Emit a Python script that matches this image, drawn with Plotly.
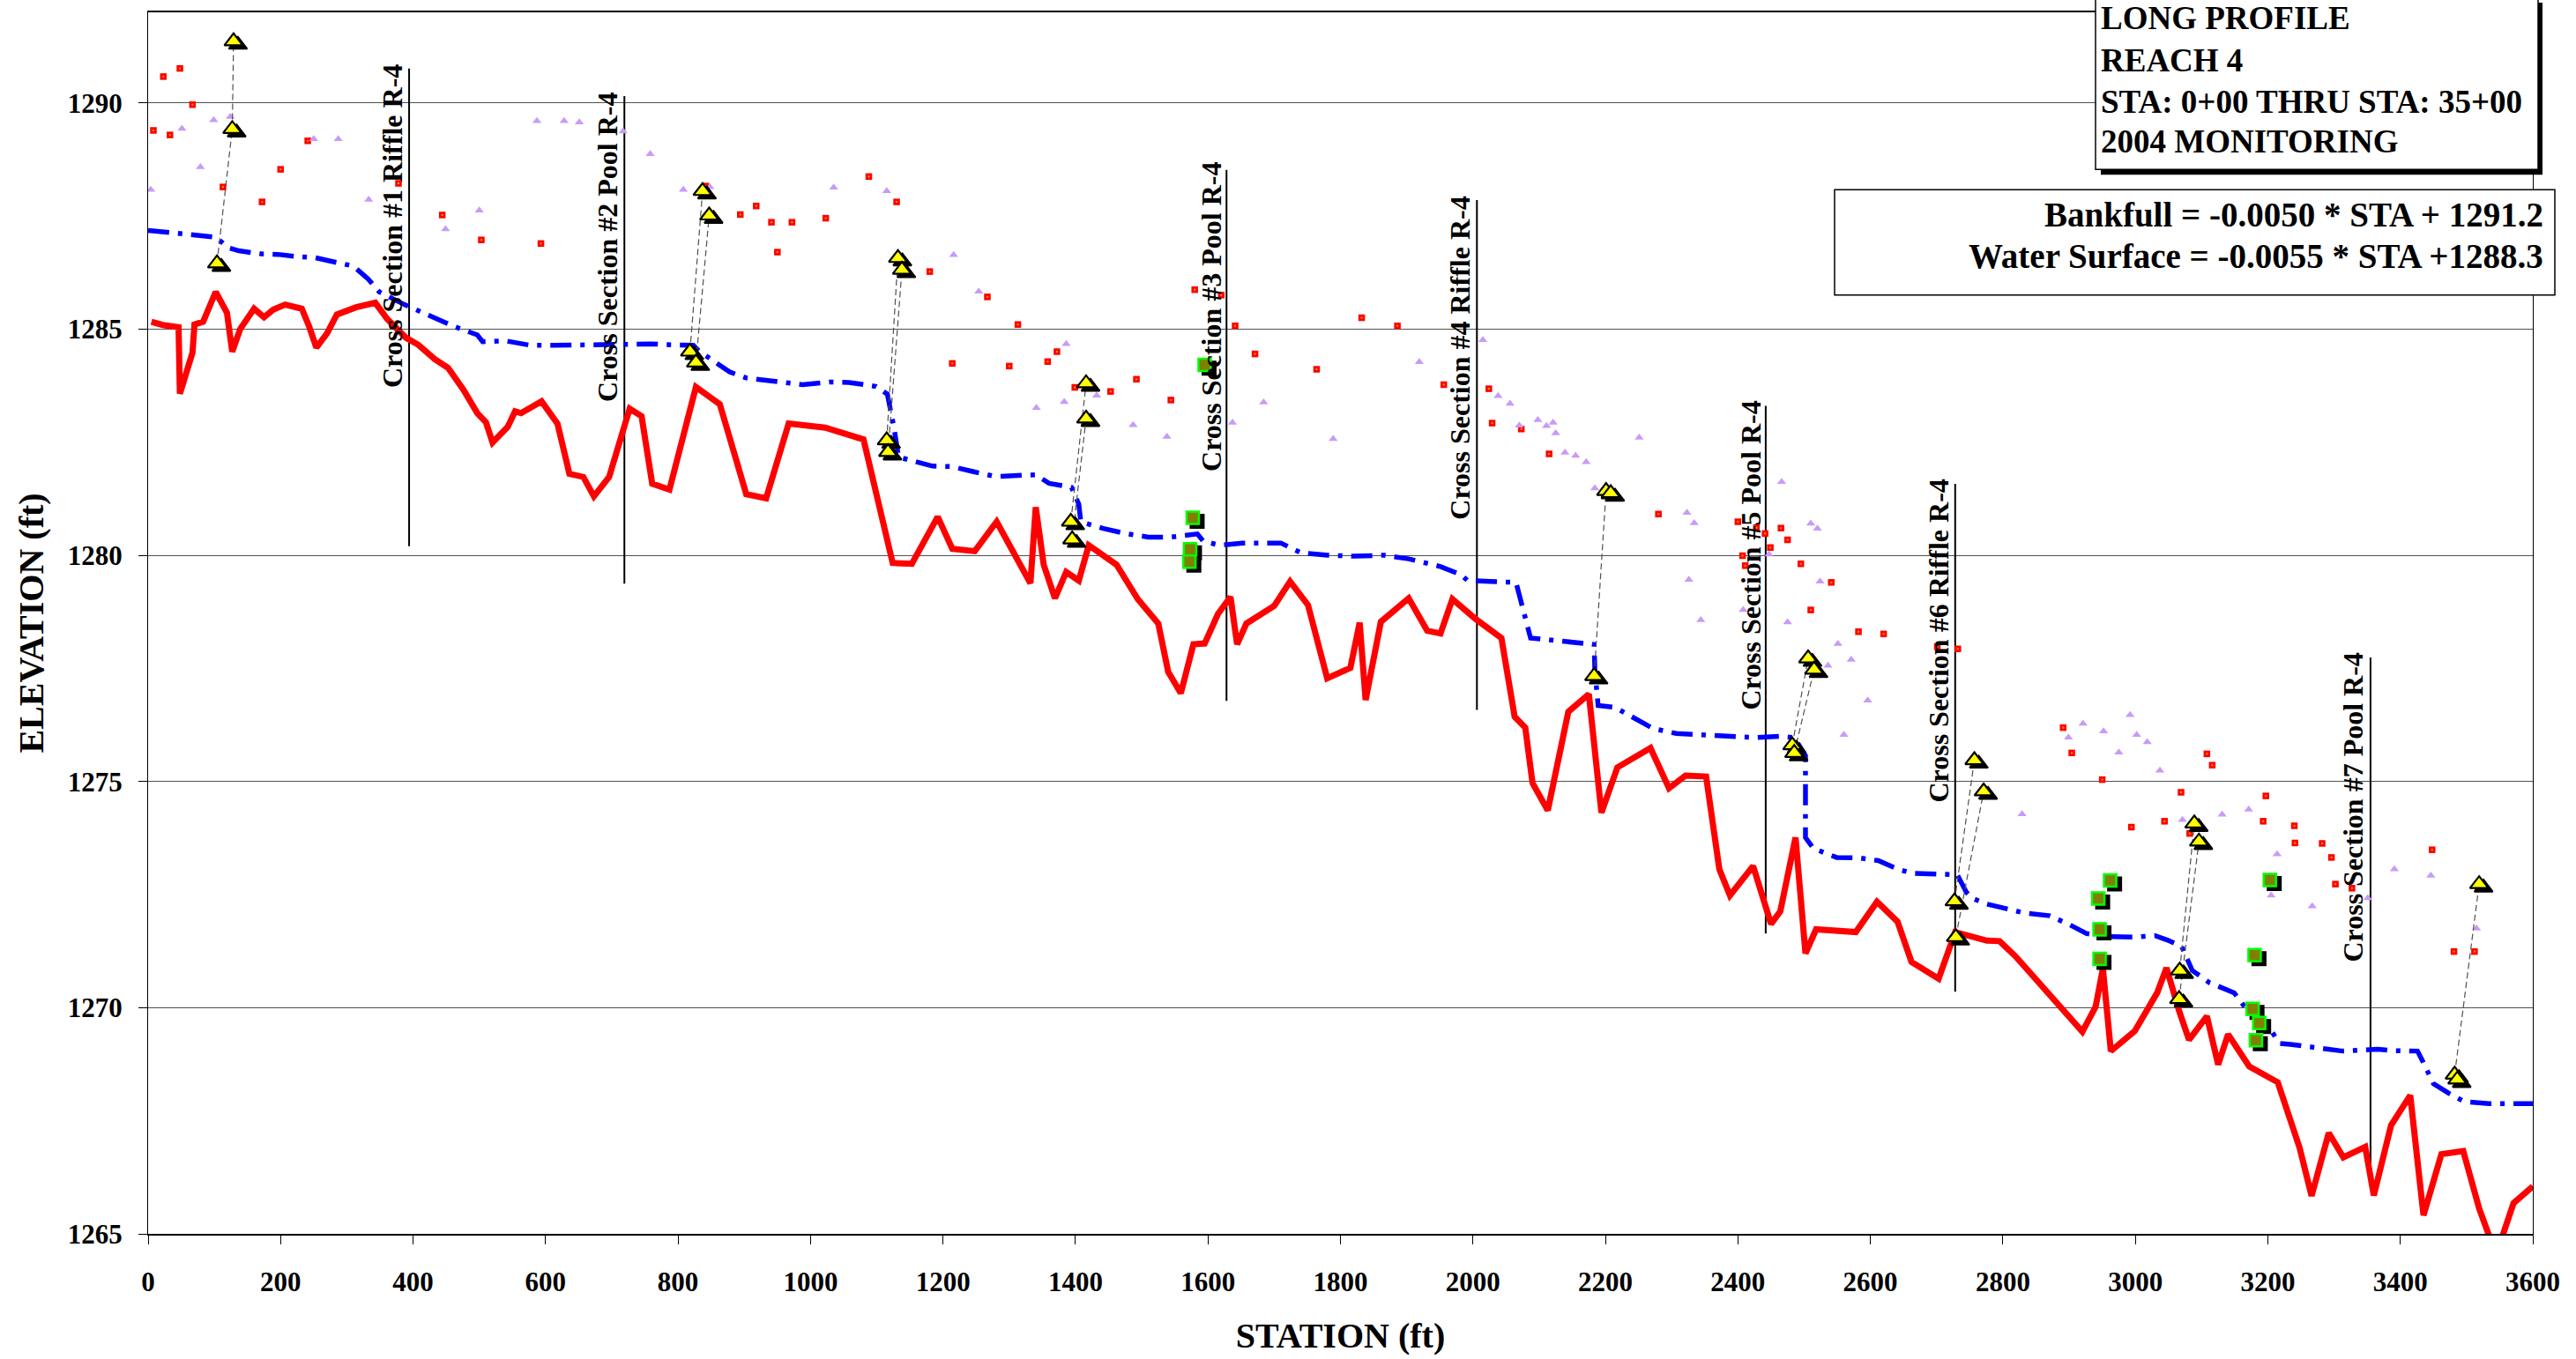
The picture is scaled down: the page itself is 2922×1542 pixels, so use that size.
import plotly.graph_objects as go

# ---------------- DATA ----------------
# Thalweg (red solid line)
BED_STA = [5, 22, 46, 48, 67, 70, 83, 102, 119, 127, 139, 160, 175, 189, 207, 232, 243, 254, 270, 285,
           314, 343, 361, 389, 408, 433, 453, 476, 497, 510, 520, 543, 554, 563, 594, 618, 636, 657, 673, 696,
           708, 727, 745, 761, 787, 827, 863, 903, 933, 967, 1022, 1047, 1080, 1124, 1153, 1192, 1214, 1248, 1281, 1332,
           1340, 1352, 1369, 1386, 1405, 1420, 1462, 1494, 1525, 1540, 1559, 1578, 1595, 1615, 1634, 1644, 1658, 1700, 1724, 1751,
           1780, 1815, 1829, 1838, 1861, 1903, 1931, 1951, 1969, 2005, 2043, 2063, 2079, 2090, 2113, 2144, 2175, 2194, 2218, 2268,
           2296, 2321, 2352, 2372, 2388, 2423, 2450, 2464, 2487, 2502, 2518, 2578, 2610, 2641, 2662, 2703, 2728, 2776, 2795, 2820,
           2920, 2940, 2951, 2963, 2999, 3033, 3047, 3066, 3081, 3108, 3125, 3140, 3172, 3215, 3248, 3266, 3292, 3314, 3347, 3360,
           3386, 3415, 3435, 3462, 3495, 3519, 3538, 3553, 3571, 3600]
BED_ELEV = [1285.16, 1285.09, 1285.04, 1283.57, 1284.48, 1285.10, 1285.16, 1285.82, 1285.36, 1284.50, 1285.00, 1285.45, 1285.26, 1285.43, 1285.54, 1285.45, 1285.06, 1284.59, 1284.90, 1285.32,
            1285.48, 1285.58, 1285.22, 1284.81, 1284.65, 1284.33, 1284.14, 1283.66, 1283.14, 1282.94, 1282.49, 1282.84, 1283.18, 1283.14, 1283.40, 1282.91, 1281.80, 1281.73, 1281.30, 1281.73,
            1282.32, 1283.24, 1283.07, 1281.58, 1281.45, 1283.72, 1283.34, 1281.35, 1281.26, 1282.91, 1282.82, 1282.71, 1282.56, 1279.83, 1279.81, 1280.85, 1280.14, 1280.09, 1280.74, 1279.38,
            1281.06, 1279.79, 1279.05, 1279.63, 1279.44, 1280.22, 1279.79, 1279.03, 1278.49, 1277.42, 1276.95, 1278.03, 1278.05, 1278.70, 1279.08, 1278.03, 1278.49, 1278.88, 1279.42, 1278.90,
            1277.28, 1277.51, 1278.51, 1276.80, 1278.53, 1279.05, 1278.33, 1278.27, 1279.03, 1278.58, 1278.17, 1276.43, 1276.19, 1274.96, 1274.36, 1276.54, 1276.93, 1274.31, 1275.31, 1275.74,
            1274.85, 1275.13, 1275.11, 1273.06, 1272.48, 1273.13, 1271.85, 1272.13, 1273.76, 1271.20, 1271.73, 1271.67, 1272.34, 1271.90, 1271.01, 1270.64, 1271.67, 1271.48, 1271.47, 1271.12,
            1269.47, 1270.02, 1270.86, 1269.04, 1269.48, 1270.33, 1270.88, 1269.93, 1269.29, 1269.81, 1268.74, 1269.41, 1268.70, 1268.35, 1266.90, 1265.84, 1267.23, 1266.69, 1266.92, 1265.85,
            1267.40, 1268.06, 1265.41, 1266.76, 1266.83, 1265.56, 1264.80, 1264.90, 1265.68, 1266.05]

# Water surface (blue dash-dot line)
WS_STA = [0, 22, 69, 103, 120, 137, 171, 196, 226, 251, 285, 310, 332, 349, 387, 433, 463, 497, 505, 539,
          577, 615, 641, 708, 759, 793, 823, 831, 853, 878, 903, 937, 988, 1030, 1058, 1099, 1116, 1126, 1133, 1184,
          1214, 1245, 1279, 1340, 1360, 1394, 1405, 1408, 1442, 1476, 1510, 1544, 1584, 1593, 1618, 1652, 1710, 1741, 1781, 1822,
          1866, 1903, 1951, 1982, 1992, 2026, 2065, 2087, 2151, 2183, 2184, 2189, 2214, 2243, 2272, 2307, 2338, 2396, 2428, 2463,
          2485, 2502, 2502, 2514, 2549, 2583, 2612, 2643, 2665, 2700, 2731, 2745, 2753, 2776, 2802, 2833, 2871, 2900, 2926, 2956,
          2996, 3030, 3049, 3070, 3086, 3112, 3149, 3165, 3197, 3218, 3234, 3286, 3313, 3336, 3366, 3387, 3426, 3434, 3450, 3474,
          3497, 3534, 3600]
WS_ELEV = [1287.18, 1287.15, 1287.08, 1287.03, 1286.80, 1286.73, 1286.66, 1286.65, 1286.60, 1286.58, 1286.47, 1286.39, 1286.11, 1285.82, 1285.54, 1285.24, 1285.05, 1284.87, 1284.72, 1284.74,
           1284.64, 1284.64, 1284.65, 1284.67, 1284.67, 1284.65, 1284.64, 1284.52, 1284.31, 1284.05, 1283.92, 1283.86, 1283.77, 1283.83, 1283.82, 1283.73, 1283.56, 1282.82, 1282.17, 1281.97,
           1281.96, 1281.85, 1281.74, 1281.78, 1281.59, 1281.50, 1281.13, 1280.74, 1280.59, 1280.48, 1280.40, 1280.40, 1280.47, 1280.31, 1280.22, 1280.27, 1280.27, 1280.05, 1280.00, 1279.98,
           1280.00, 1279.92, 1279.75, 1279.57, 1279.44, 1279.42, 1279.40, 1278.17, 1278.07, 1278.03, 1277.47, 1276.68, 1276.64, 1276.40, 1276.17, 1276.06, 1276.03, 1275.99, 1275.97, 1276.00,
           1275.97, 1275.57, 1273.76, 1273.52, 1273.32, 1273.31, 1273.25, 1273.05, 1272.97, 1272.95, 1272.94, 1272.55, 1272.42, 1272.29, 1272.19, 1272.09, 1272.03, 1271.84, 1271.64, 1271.57,
           1271.56, 1271.59, 1271.49, 1271.35, 1270.82, 1270.55, 1270.33, 1270.02, 1269.66, 1269.21, 1269.19, 1269.10, 1269.04, 1269.06, 1269.08, 1269.05, 1269.04, 1268.81, 1268.32, 1268.10,
           1267.92, 1267.88, 1267.88]

# Red square points
RSQ_STA = [8, 23, 33, 48, 67, 113, 172, 200, 241, 378, 444, 503, 593, 842, 894, 918, 941, 950, 972, 1023,
           1088, 1130, 1180, 1267, 1313, 1214, 1300, 1358, 1372, 1399, 1453, 1492, 1544, 1580, 1620, 1641, 1671, 1764, 1832, 1886,
           1956, 2024, 2029, 2073, 2115, 2280, 2400, 2428, 2441, 2449, 2407, 2411, 2465, 2475, 2495, 2541, 2510, 2582, 2620, 2701,
           2732, 2891, 2904, 2950, 2994, 3044, 3069, 3082, 3108, 3116, 3197, 3193, 3240, 3241, 3282, 3296, 3302, 3327, 3448, 3481,
           3512]
RSQ_ELEV = [1289.39, 1290.58, 1289.29, 1290.76, 1289.96, 1288.14, 1287.81, 1288.53, 1289.16, 1288.22, 1287.52, 1286.97, 1286.89, 1288.16, 1287.53, 1287.72, 1287.36, 1286.70, 1287.36, 1287.45,
            1288.37, 1287.81, 1286.27, 1285.71, 1285.10, 1284.24, 1284.18, 1284.28, 1284.50, 1283.71, 1283.62, 1283.89, 1283.43, 1285.87, 1285.75, 1285.07, 1284.45, 1284.11, 1285.25, 1285.07,
            1283.77, 1283.68, 1282.92, 1282.79, 1282.24, 1280.91, 1280.74, 1280.61, 1280.48, 1280.17, 1279.99, 1279.77, 1280.60, 1280.34, 1279.81, 1279.40, 1278.79, 1278.31, 1278.26, 1277.98,
            1277.93, 1276.19, 1275.63, 1275.04, 1273.99, 1274.12, 1274.76, 1273.85, 1275.61, 1275.36, 1274.68, 1274.12, 1274.02, 1273.64, 1273.63, 1273.32, 1272.73, 1272.64, 1273.49, 1271.24,
            1271.24]

# Lavender triangle points
PTR_STA = [4, 51, 79, 99, 124, 250, 287, 333, 449, 500, 587, 628, 651, 717, 758, 808, 848, 1035, 1115, 1216,
           1254, 1386, 1341, 1383, 1432, 1487, 1538, 1637, 1684, 1789, 1919, 2015, 2038, 2056, 2070, 2098, 2111, 2121, 2125, 2139,
           2155, 2171, 2184, 2251, 2323, 2334, 2326, 2344, 2408, 2447, 2466, 2510, 2520, 2524, 2475, 2551, 2536, 2571, 2560, 2596,
           2829, 2899, 2921, 2952, 2975, 2992, 3002, 3018, 3037, 3071, 3131, 3171, 3214, 3205, 3267, 3351, 3391, 3446, 3515]
PTR_ELEV = [1288.08, 1289.43, 1288.58, 1289.62, 1289.69, 1289.20, 1289.20, 1287.86, 1287.21, 1287.62, 1289.60, 1289.60, 1289.57, 1289.37, 1288.87, 1288.08, 1288.14, 1288.13, 1288.05, 1286.64,
            1285.83, 1284.67, 1283.26, 1283.39, 1283.53, 1282.88, 1282.62, 1282.93, 1283.38, 1282.57, 1284.27, 1284.76, 1283.52, 1283.35, 1282.87, 1282.99, 1282.86, 1282.93, 1282.70, 1282.27,
            1282.20, 1282.06, 1281.48, 1282.60, 1280.94, 1280.71, 1279.46, 1278.57, 1278.79, 1280.02, 1281.62, 1280.70, 1280.59, 1279.42, 1278.52, 1278.04, 1277.56, 1277.69, 1276.03, 1276.79,
            1274.28, 1275.97, 1276.28, 1276.11, 1275.64, 1276.47, 1276.03, 1275.87, 1275.24, 1274.15, 1274.27, 1274.38, 1273.39, 1272.48, 1272.24, 1272.42, 1273.06, 1272.92, 1271.75]

# Yellow triangle points (bankfull indicators)
YT_STA = [104, 127, 129,
          818, 827, 837, 847,
          1115, 1117, 1132, 1138,
          1393, 1395, 1416, 1416,
          2183, 2201, 2208,
          2482, 2485, 2506, 2515,
          2727, 2729, 2757, 2771,
          3067, 3066, 3089, 3096,
          3482, 3486, 3519]
YT_ELEV = [1286.45, 1289.42, 1291.36,
           1284.50, 1284.26, 1288.05, 1287.51,
           1282.54, 1282.28, 1286.57, 1286.31,
           1280.74, 1280.35, 1283.80, 1283.02,
           1277.33, 1281.42, 1281.37,
           1275.80, 1275.63, 1277.72, 1277.47,
           1272.35, 1271.56, 1275.47, 1274.78,
           1270.82, 1270.19, 1274.07, 1273.67,
           1268.52, 1268.41, 1272.73]
# dashed connectors between yellow triangles (index pairs)
YT_LINKS = [(0, 1), (1, 2), (3, 5), (4, 6), (7, 9), (8, 10), (11, 13), (12, 14), (15, 16),
            (18, 20), (19, 21), (22, 24), (23, 25), (26, 28), (27, 29), (30, 32)]

# Green square points
GSQ_STA = [1595, 1577, 1573, 1572, 2962, 2944, 2946, 2946, 3203, 3180, 3177, 3187, 3182]
GSQ_ELEV = [1284.21, 1280.83, 1280.13, 1279.86, 1272.81, 1272.41, 1271.73, 1271.08, 1272.82, 1271.16, 1269.97, 1269.66, 1269.28]

# Cross sections
CS_NAMES = ["Cross Section #1 Riffle R-4", "Cross Section #2 Pool R-4", "Cross Section #3 Pool R-4",
            "Cross Section #4 Riffle R-4", "Cross Section #5 Pool R-4", "Cross Section #6 Riffle R-4",
            "Cross Section #7 Pool R-4"]
CS_LINE_STA = [394, 719, 1628, 2006, 2442, 2728, 3355]
CS_LINE_BOT = [1280.20, 1279.37, 1276.78, 1276.58, 1271.64, 1270.35, 1266.07]
CS_LINE_TOP = [1290.76, 1290.15, 1288.52, 1287.85, 1283.30, 1281.58, 1277.74]
CS_LABEL_STA = [369, 694, 1605, 1981, 2419, 2703, 3328]
CS_LABEL_ELEV = [1287.27, 1286.81, 1285.28, 1284.36, 1280.00, 1278.10, 1274.43]

X_TICKS = [0, 200, 400, 600, 800, 1000, 1200, 1400, 1600, 1800, 2000, 2200, 2400, 2600, 2800, 3000, 3200, 3400, 3600]
Y_TICKS = [1265, 1270, 1275, 1280, 1285, 1290]

TITLE_LINES = ["LONG PROFILE", "REACH 4", "STA: 0+00 THRU STA: 35+00", "2004 MONITORING"]
EQ_LINES = ["Bankfull = -0.0050 * STA + 1291.2", "Water Surface = -0.0055 * STA +1288.3"]

# ---------------- LAYOUT CONSTANTS ----------------
W, H = 2922, 1542
ML, MR, MT, MB = 168, 49, 13, 138
X_RANGE = [0, 3600]
Y_RANGE = [1265, 1292]
PW = W - ML - MR
PH = H - MT - MB
FONT = "Liberation Serif, Times New Roman, serif"

SH_PX_X, SH_PX_Y = 5, 4
dx = SH_PX_X * (X_RANGE[1] - X_RANGE[0]) / PW
dy = SH_PX_Y * (Y_RANGE[1] - Y_RANGE[0]) / PH


def px_x(p):
    return (p - ML) / PW


def px_y(p):
    return (H - MB - p) / PH


fig = go.Figure()

# cross-section lines
for i in range(len(CS_NAMES)):
    fig.add_trace(go.Scatter(x=[CS_LINE_STA[i], CS_LINE_STA[i]], y=[CS_LINE_BOT[i], CS_LINE_TOP[i]],
                             mode="lines", line=dict(color="black", width=2), hoverinfo="skip"))

# thalweg and water surface
fig.add_trace(go.Scatter(x=BED_STA, y=BED_ELEV, mode="lines", line=dict(color="#ff0000", width=7)))
fig.add_trace(go.Scatter(x=WS_STA, y=WS_ELEV, mode="lines",
                         line=dict(color="#0000ff", width=5.5, dash="24px,10px,5px,10px")))

# scattered points
fig.add_trace(go.Scatter(x=RSQ_STA, y=RSQ_ELEV, mode="markers",
                         marker=dict(symbol="square", size=7.5, color="#ff0000", line=dict(width=0))))
fig.add_trace(go.Scatter(x=RSQ_STA, y=RSQ_ELEV, mode="markers",
                         marker=dict(symbol="square", size=2, color="#ff9900", line=dict(width=0))))
fig.add_trace(go.Scatter(x=PTR_STA, y=PTR_ELEV, mode="markers",
                         marker=dict(symbol="triangle-up", size=9, color="#c99bf5", line=dict(width=0))))

# connectors
lx, ly = [], []
for a, b in YT_LINKS:
    lx += [YT_STA[a], YT_STA[b], None]
    ly += [YT_ELEV[a], YT_ELEV[b], None]
fig.add_trace(go.Scatter(x=lx, y=ly, mode="lines", line=dict(color="#505050", width=1.2, dash="7px,4px")))

# shadows (shifted overlay axes)
fig.add_trace(go.Scatter(x=YT_STA, y=YT_ELEV, mode="markers", xaxis="x2", yaxis="y2",
                         marker=dict(symbol="triangle-up", size=18, color="black", line=dict(color="black", width=2))))
fig.add_trace(go.Scatter(x=GSQ_STA, y=GSQ_ELEV, mode="markers", xaxis="x2", yaxis="y2",
                         marker=dict(symbol="square", size=15, color="black", line=dict(color="black", width=2))))

# foreground markers
fig.add_trace(go.Scatter(x=YT_STA, y=YT_ELEV, mode="markers", xaxis="x3", yaxis="y3",
                         marker=dict(symbol="triangle-up", size=18, color="#ffff00", line=dict(color="black", width=2.2))))
fig.add_trace(go.Scatter(x=GSQ_STA, y=GSQ_ELEV, mode="markers", xaxis="x3", yaxis="y3",
                         marker=dict(symbol="square", size=14, color="#808000", line=dict(color="#00ff00", width=2.5))))

annotations = []
for i, name in enumerate(CS_NAMES):
    annotations.append(dict(x=CS_LABEL_STA[i], y=CS_LABEL_ELEV[i], xref="x", yref="y", text=name,
                            textangle=-90, showarrow=False, xanchor="center", yanchor="middle",
                            font=dict(family=FONT, size=32, color="black", weight="bold")))

title_y = [20, 68, 115, 160]
for t, yy in zip(TITLE_LINES, title_y):
    annotations.append(dict(x=px_x(2381), y=px_y(yy), xref="paper", yref="paper", text=t, showarrow=False,
                            xanchor="left", yanchor="middle",
                            font=dict(family=FONT, size=37, color="black", weight="bold")))
eq_y = [243, 290]
for t, yy in zip(EQ_LINES, eq_y):
    annotations.append(dict(x=px_x(2887), y=px_y(yy), xref="paper", yref="paper", text=t, showarrow=False,
                            xanchor="right", yanchor="middle",
                            font=dict(family=FONT, size=39, color="black", weight="bold")))

shapes = [
    dict(type="rect", xref="paper", yref="paper", x0=px_x(2383), x1=px_x(2884), y0=px_y(198), y1=px_y(2),
         fillcolor="black", line=dict(width=0), layer="above"),
    dict(type="rect", xref="paper", yref="paper", x0=px_x(2377), x1=px_x(2879), y0=px_y(192), y1=px_y(-4),
         fillcolor="white", line=dict(color="black", width=1.5), layer="above"),
    dict(type="rect", xref="paper", yref="paper", x0=px_x(2081), x1=px_x(2898), y0=px_y(335), y1=px_y(215),
         fillcolor="white", line=dict(color="black", width=1.5), layer="above"),
]

tickfont = dict(family=FONT, size=31, color="black", weight="bold")
fig.update_layout(
    width=W, height=H, margin=dict(l=ML, r=MR, t=MT, b=MB, pad=0),
    paper_bgcolor="white", plot_bgcolor="white", showlegend=False,
    xaxis=dict(range=X_RANGE, tickvals=X_TICKS, ticktext=[str(v) for v in X_TICKS],
               ticks="outside", ticklen=10, tickwidth=1, tickcolor="black",
               showline=True, linecolor="black", linewidth=2, mirror=True, showgrid=False, zeroline=False,
               tickfont=tickfont, ticklabelstandoff=16,
               title=dict(text="STATION (ft)", font=dict(family=FONT, size=40, color="black", weight="bold"), standoff=30)),
    yaxis=dict(range=Y_RANGE, tickvals=Y_TICKS, ticktext=[str(v) for v in Y_TICKS],
               ticks="outside", ticklen=10, tickwidth=1, tickcolor="black",
               showline=True, linecolor="black", linewidth=1, mirror=True,
               showgrid=True, gridcolor="#505050", gridwidth=1, zeroline=False,
               tickfont=tickfont, ticklabelstandoff=12,
               title=dict(text="ELEVATION (ft)", font=dict(family=FONT, size=40, color="black", weight="bold"), standoff=14)),
    xaxis2=dict(overlaying="x", range=[X_RANGE[0] - dx, X_RANGE[1] - dx], visible=False, anchor="y2"),
    yaxis2=dict(overlaying="y", range=[Y_RANGE[0] + dy, Y_RANGE[1] + dy], visible=False, anchor="x2"),
    xaxis3=dict(overlaying="x", range=X_RANGE, visible=False, anchor="y3"),
    yaxis3=dict(overlaying="y", range=Y_RANGE, visible=False, anchor="x3"),
    annotations=annotations, shapes=shapes,
)

fig.write_html("out.html")
